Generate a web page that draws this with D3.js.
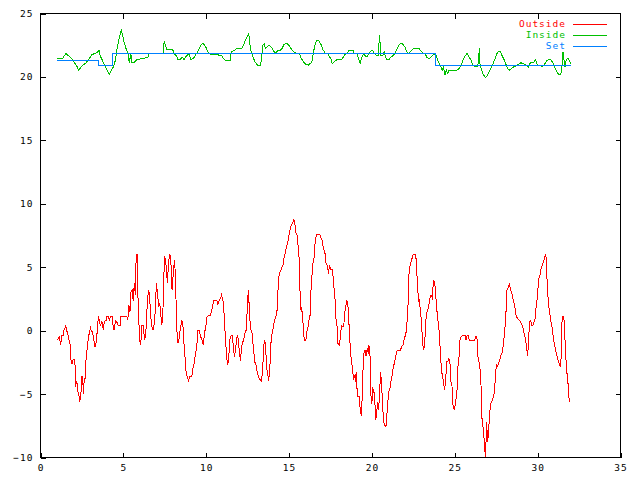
<!DOCTYPE html>
<html>
<head>
<meta charset="utf-8">
<script src="https://cdn.jsdelivr.net/npm/d3@7"></script>
<style>
  html, body { margin: 0; padding: 0; background: #fff; }
  svg text { font-family: "DejaVu Sans Mono", "Liberation Mono", monospace; font-size: 9.5px; letter-spacing: 1px; }
</style>
</head>
<body>
<svg id="chart" width="640" height="480"></svg>
<script>
// x = day of month, y = temperature (deg C)
const xTicks = [0, 5, 10, 15, 20, 25, 30, 35]
const yTicks = [-10, -5, 0, 5, 10, 15, 20, 25]

const seriesNames = ["Outside", "Inside", "Set"]
const seriesColors = ["#ff0000", "#00c000", "#0080ff"]

const outside = [[1.01,-0.75],[1.14,-0.49],[1.22,-1.15],[1.28,-0.41],[1.38,-0.41],[1.42,0.03],[1.52,0.37],[1.58,0.03],[1.66,-0.36],[1.72,-0.75],[1.82,-1.23],[1.84,-2.33],[1.90,-2.65],[1.96,-2.33],[2.02,-2.25],[2.10,-2.86],[2.12,-4.43],[2.16,-4.04],[2.22,-4.17],[2.26,-4.83],[2.32,-5.09],[2.37,-5.62],[2.40,-5.22],[2.46,-4.69],[2.49,-3.65],[2.55,-3.65],[2.58,-4.96],[2.64,-3.91],[2.69,-3.77],[2.73,-2.59],[2.79,-1.68],[2.85,-1.01],[2.91,-0.36],[2.97,-0.18],[3.01,0.35],[3.05,0.03],[3.13,-0.10],[3.21,-0.62],[3.29,-1.28],[3.35,-1.01],[3.39,-0.62],[3.45,0.56],[3.51,1.14],[3.55,0.69],[3.63,0.43],[3.70,0.77],[3.76,0.30],[3.79,0.03],[3.85,0.69],[3.96,0.82],[4.00,1.14],[4.09,1.14],[4.15,0.82],[4.24,1.14],[4.32,1.14],[4.38,0.43],[4.44,0.03],[4.52,0.77],[4.60,0.69],[4.68,0.43],[4.80,0.43],[4.86,1.14],[5.04,1.14],[5.21,1.14],[5.27,0.82],[5.33,2.01],[5.40,1.48],[5.46,3.05],[5.54,3.19],[5.59,2.34],[5.66,3.72],[5.73,2.79],[5.77,5.81],[5.83,6.03],[5.87,3.19],[5.93,0.82],[5.99,-0.75],[6.05,-1.15],[6.11,0.43],[6.21,0.43],[6.27,-0.75],[6.35,-0.36],[6.41,1.35],[6.47,2.66],[6.53,3.19],[6.59,2.72],[6.63,1.35],[6.71,0.43],[6.78,0.03],[6.85,0.43],[6.93,1.61],[6.99,3.72],[7.05,3.05],[7.14,1.87],[7.20,2.14],[7.26,1.22],[7.32,0.43],[7.38,1.22],[7.44,3.98],[7.48,5.81],[7.54,5.69],[7.60,4.77],[7.66,3.72],[7.72,5.29],[7.80,6.03],[7.86,5.69],[7.94,3.19],[8.02,4.63],[8.08,5.55],[8.14,4.50],[8.22,0.17],[8.29,-1.01],[8.36,-0.62],[8.44,0.17],[8.53,0.82],[8.60,0.30],[8.67,-1.28],[8.73,-2.20],[8.79,-3.38],[8.87,-3.65],[8.93,-3.91],[9.01,-3.59],[9.13,-3.59],[9.19,-3.06],[9.27,-2.59],[9.35,-1.86],[9.43,-1.28],[9.49,-0.02],[9.59,-0.02],[9.67,-0.49],[9.75,-0.75],[9.83,-1.15],[9.89,-0.23],[9.98,0.35],[10.05,1.09],[10.13,1.19],[10.25,1.19],[10.34,1.61],[10.42,2.14],[10.46,2.40],[10.64,2.40],[10.70,2.01],[10.78,2.40],[10.86,2.53],[10.92,2.79],[11.00,2.40],[11.06,2.01],[11.10,0.43],[11.16,-0.36],[11.22,-1.94],[11.30,-2.72],[11.36,-2.07],[11.44,-0.62],[11.50,-0.38],[11.58,-0.38],[11.64,-1.28],[11.70,-2.07],[11.76,-1.54],[11.82,-0.89],[11.87,-0.38],[11.93,-0.62],[11.99,-1.54],[12.07,-2.38],[12.13,-1.28],[12.19,-1.01],[12.27,-0.62],[12.33,-0.23],[12.41,0.03],[12.45,0.96],[12.49,2.27],[12.55,3.19],[12.59,2.01],[12.65,0.56],[12.71,-0.02],[12.77,-0.23],[12.85,-1.41],[12.93,-2.46],[13.01,-2.72],[13.09,-3.38],[13.19,-3.77],[13.32,-3.96],[13.39,-3.38],[13.48,-1.15],[13.51,-0.81],[13.58,-1.01],[13.64,-2.98],[13.70,-3.25],[13.76,-3.96],[13.82,-3.38],[13.88,-1.94],[13.92,-0.62],[14.00,-0.10],[14.06,0.30],[14.12,0.82],[14.20,1.14],[14.26,1.22],[14.32,2.93],[14.38,4.24],[14.46,4.63],[14.54,4.90],[14.63,5.16],[14.69,5.69],[14.76,6.08],[14.84,6.60],[14.93,7.00],[14.99,7.52],[15.07,8.05],[15.14,8.31],[15.21,8.49],[15.29,8.76],[15.35,8.45],[15.41,7.71],[15.49,7.52],[15.55,6.60],[15.63,5.29],[15.67,2.40],[15.73,1.48],[15.77,1.87],[15.81,0.82],[15.87,0.43],[15.91,-0.75],[16.01,-0.75],[16.09,0.03],[16.17,0.43],[16.23,1.14],[16.29,1.22],[16.33,3.58],[16.39,4.50],[16.45,5.42],[16.52,5.81],[16.58,7.13],[16.66,7.60],[16.86,7.60],[16.94,7.26],[17.00,7.13],[17.06,6.60],[17.18,6.03],[17.22,5.34],[17.30,5.16],[17.38,4.50],[17.44,5.16],[17.50,4.82],[17.62,4.82],[17.68,3.84],[17.77,2.53],[17.83,0.96],[17.89,0.43],[17.95,-1.01],[18.03,-1.15],[18.10,-0.49],[18.16,0.43],[18.25,0.30],[18.31,0.56],[18.37,1.48],[18.43,2.01],[18.49,2.40],[18.57,1.74],[18.65,-0.36],[18.71,-1.68],[18.77,-2.46],[18.83,-2.98],[18.89,-3.91],[18.95,-3.51],[19.01,-4.04],[19.05,-3.25],[19.09,-4.43],[19.15,-5.22],[19.25,-5.22],[19.29,-6.27],[19.37,-6.74],[19.43,-4.43],[19.49,-1.94],[19.58,-1.54],[19.64,-2.01],[19.72,-1.41],[19.78,-1.80],[19.82,-1.15],[19.88,-1.80],[19.94,-5.09],[20.00,-5.74],[20.04,-4.43],[20.10,-4.83],[20.16,-4.96],[20.22,-7.06],[20.28,-6.66],[20.34,-5.62],[20.40,-6.27],[20.46,-4.96],[20.52,-3.25],[20.58,-4.17],[20.64,-5.74],[20.70,-7.19],[20.80,-7.59],[20.86,-7.45],[20.92,-6.27],[20.98,-5.35],[21.04,-4.69],[21.11,-4.43],[21.17,-3.77],[21.23,-3.51],[21.29,-2.86],[21.35,-2.59],[21.41,-2.20],[21.47,-1.86],[21.53,-1.54],[21.73,-1.54],[21.79,-1.23],[21.87,-1.15],[21.93,-0.75],[21.99,-0.49],[22.05,-0.23],[22.11,0.56],[22.19,2.27],[22.23,4.37],[22.29,5.03],[22.36,5.42],[22.42,5.69],[22.49,6.03],[22.60,6.03],[22.66,5.69],[22.69,4.50],[22.75,4.11],[22.80,2.27],[22.87,2.40],[22.92,1.61],[22.98,0.82],[23.04,-0.49],[23.10,-1.54],[23.16,-1.28],[23.22,-0.23],[23.28,1.35],[23.36,1.61],[23.42,1.87],[23.48,2.40],[23.54,2.79],[23.60,2.79],[23.66,2.40],[23.70,3.98],[23.76,3.84],[23.82,3.45],[23.90,1.87],[23.96,1.09],[24.02,0.43],[24.08,-0.36],[24.14,-2.07],[24.20,-3.12],[24.26,-3.65],[24.32,-4.04],[24.38,-4.69],[24.45,-3.91],[24.51,-2.46],[24.57,-2.46],[24.65,-2.20],[24.71,-2.59],[24.77,-4.04],[24.83,-4.30],[24.87,-5.74],[24.97,-6.27],[25.05,-5.62],[25.13,-4.83],[25.19,-2.86],[25.25,-2.20],[25.31,-0.75],[25.37,-0.49],[25.47,-0.41],[25.63,-0.41],[25.68,-0.75],[25.74,-0.41],[25.82,-0.41],[25.88,-0.75],[26.20,-0.75],[26.28,-0.41],[26.34,-0.62],[26.40,-2.07],[26.46,-2.46],[26.52,-2.98],[26.58,-4.17],[26.62,-6.66],[26.70,-7.59],[26.76,-8.38],[26.80,-9.29],[26.86,-9.95],[26.92,-7.19],[26.98,-8.77],[27.04,-8.11],[27.08,-6.93],[27.16,-5.74],[27.22,-5.62],[27.28,-5.48],[27.34,-5.09],[27.40,-4.83],[27.46,-3.25],[27.52,-2.72],[27.58,-2.80],[27.64,-2.59],[27.73,-2.20],[27.79,-1.94],[27.85,-1.80],[27.91,-1.28],[27.97,-0.62],[28.03,0.30],[28.09,1.48],[28.15,3.19],[28.23,3.45],[28.29,3.66],[28.35,3.32],[28.41,3.05],[28.47,2.79],[28.53,2.40],[28.59,2.14],[28.64,1.74],[28.67,1.35],[28.73,1.09],[28.82,0.88],[28.89,0.82],[28.97,0.69],[29.03,0.51],[29.09,0.30],[29.15,0.03],[29.21,-0.36],[29.28,-0.75],[29.34,-1.41],[29.40,-2.01],[29.44,-1.01],[29.48,-0.10],[29.52,0.69],[29.58,0.82],[29.64,0.43],[29.72,0.43],[29.78,0.69],[29.86,0.96],[29.90,1.74],[29.96,2.40],[30.02,3.32],[30.08,4.11],[30.14,4.37],[30.20,4.82],[30.26,5.08],[30.33,5.34],[30.41,5.69],[30.47,6.03],[30.53,5.69],[30.57,3.84],[30.63,2.53],[30.71,1.48],[30.77,1.09],[30.83,0.43],[30.89,0.17],[30.95,-0.62],[31.01,-1.01],[31.07,-1.41],[31.13,-1.80],[31.19,-2.07],[31.25,-2.46],[31.31,-2.64],[31.37,-2.86],[31.43,-1.94],[31.47,0.69],[31.51,1.14],[31.57,1.14],[31.61,0.56],[31.67,-1.28],[31.75,-3.25],[31.81,-3.59],[31.87,-5.09],[31.93,-5.62]]

const inside = [[1.01,21.45],[1.34,21.45],[1.42,21.63],[1.54,21.85],[1.66,21.69],[1.78,21.58],[1.90,21.40],[2.06,21.11],[2.19,20.85],[2.31,20.53],[2.43,20.74],[2.55,20.92],[2.75,21.11],[2.95,21.45],[3.11,21.77],[3.31,21.85],[3.43,21.95],[3.53,22.11],[3.59,21.71],[3.71,21.37],[3.88,20.92],[4.03,20.53],[4.15,20.22],[4.28,20.53],[4.40,20.79],[4.52,21.32],[4.64,22.37],[4.72,22.90],[4.80,23.29],[4.88,23.68],[4.96,23.29],[5.04,22.76],[5.16,22.24],[5.28,21.85],[5.36,21.11],[5.45,21.85],[5.51,21.11],[5.65,21.11],[5.77,21.32],[5.93,21.40],[6.21,21.45],[6.49,21.58],[6.53,21.85],[7.42,21.85],[7.46,22.84],[7.54,22.50],[7.62,22.16],[7.98,22.16],[8.05,21.85],[8.22,21.63],[8.30,21.37],[8.42,21.37],[8.54,21.55],[8.67,21.37],[8.79,21.63],[8.95,21.85],[9.07,21.37],[9.23,21.45],[9.35,21.71],[9.51,22.05],[9.63,22.37],[9.75,22.63],[9.87,22.58],[9.99,22.32],[10.11,21.97],[10.28,21.77],[10.94,21.71],[11.04,21.45],[11.14,21.32],[11.44,21.32],[11.52,21.97],[11.64,22.05],[11.85,22.24],[12.15,22.24],[12.29,22.63],[12.41,23.03],[12.51,23.29],[12.57,23.42],[12.61,22.76],[12.69,22.11],[12.81,21.58],[12.95,21.19],[13.09,20.92],[13.26,20.92],[13.33,21.32],[13.42,22.50],[13.50,22.58],[13.58,22.24],[13.70,22.42],[13.82,22.50],[13.94,22.32],[14.06,22.05],[14.18,21.90],[14.30,22.05],[14.42,22.05],[14.58,22.24],[14.70,22.58],[14.87,22.63],[14.99,22.50],[15.11,22.24],[15.27,21.97],[15.47,21.85],[15.63,21.85],[15.71,21.53],[15.83,21.26],[15.99,21.00],[16.17,20.92],[16.38,21.19],[16.47,21.97],[16.59,22.63],[16.68,22.90],[16.80,22.84],[16.92,22.58],[17.04,22.16],[17.20,21.85],[17.32,21.85],[17.44,21.58],[17.56,21.37],[17.60,21.06],[17.89,21.37],[18.16,21.37],[18.28,21.58],[18.41,21.85],[18.53,21.90],[18.61,22.11],[18.85,22.11],[18.93,21.85],[19.09,21.85],[19.21,21.37],[19.29,21.06],[19.37,21.45],[19.49,21.85],[19.61,21.63],[19.73,21.63],[19.82,21.85],[19.94,22.05],[20.06,22.05],[20.14,21.85],[20.26,21.71],[20.38,21.71],[20.42,22.50],[20.46,23.29],[20.50,22.50],[20.54,21.71],[20.66,21.71],[20.74,21.97],[20.82,21.58],[20.90,21.37],[21.03,21.37],[21.10,21.53],[21.23,21.63],[21.39,21.85],[21.51,22.16],[21.63,22.50],[21.75,22.68],[21.87,22.58],[21.99,22.37],[22.11,21.97],[22.23,21.85],[22.31,21.97],[22.43,22.16],[22.56,22.24],[22.84,22.24],[22.96,22.05],[23.08,21.85],[23.20,21.85],[23.32,21.53],[23.48,21.45],[23.68,21.71],[23.82,21.85],[23.92,21.53],[24.00,21.19],[24.12,20.92],[24.25,20.53],[24.32,20.79],[24.41,20.14],[24.49,20.53],[24.57,20.27],[24.65,20.53],[25.13,20.53],[25.25,20.66],[25.37,20.92],[25.50,21.32],[25.62,21.63],[25.74,21.85],[25.86,21.58],[25.98,21.32],[26.10,20.92],[26.22,20.79],[26.34,20.79],[26.42,21.06],[26.48,22.24],[26.52,21.06],[26.62,20.53],[26.74,20.14],[26.86,19.96],[26.98,20.14],[27.06,20.40],[27.18,20.66],[27.31,21.06],[27.43,21.45],[27.55,21.85],[27.67,22.05],[27.75,21.97],[27.87,21.63],[27.99,21.32],[28.11,20.92],[28.19,20.66],[28.31,20.53],[28.43,20.66],[28.55,20.79],[28.75,20.92],[28.99,21.11],[29.12,21.06],[29.32,20.92],[29.44,20.79],[29.56,21.11],[29.68,21.11],[29.80,21.19],[29.88,21.37],[29.92,21.19],[30.00,20.92],[30.16,20.92],[30.28,20.79],[30.45,21.06],[30.57,21.32],[30.77,21.37],[30.89,21.19],[31.01,20.79],[31.17,20.40],[31.29,20.14],[31.41,20.27],[31.49,21.06],[31.53,21.97],[31.59,21.32],[31.65,20.79],[31.73,21.37],[31.85,21.45],[31.93,21.19],[32.02,21.06]]

// thermostat set point, held until the next change
const setDays = [0.98, 3.51, 4.32, 23.86, 32.02]
const setTemps = [21.30, 20.92, 21.85, 20.92, 20.92]

const svg = d3.select("#chart")

const x = d3.scaleLinear().domain([0, 35]).range([40.5, 620.5])
const y = d3.scaleLinear().domain([-10, 25]).range([457.5, 13.5])

// ticks point inward, mirrored on top and right
const tickLen = 5

svg.append("g")
	.attr("transform", "translate(0," + y(-10) + ")")
	.call(d3.axisBottom(x).tickValues(xTicks).tickSize(-tickLen).tickPadding(7))
svg.append("g")
	.attr("transform", "translate(0," + y(25) + ")")
	.call(d3.axisTop(x).tickValues(xTicks.slice(1, -1)).tickSize(-tickLen).tickFormat(""))
svg.append("g")
	.attr("transform", "translate(" + x(0) + ",0)")
	.call(d3.axisLeft(y).tickValues(yTicks).tickSize(-tickLen).tickPadding(7))
svg.append("g")
	.attr("transform", "translate(" + x(35) + ",0)")
	.call(d3.axisRight(y).tickValues(yTicks.slice(1, -1)).tickSize(-tickLen).tickFormat(""))

svg.selectAll(".domain").remove()
svg.selectAll(".tick line").attr("stroke", "#000").attr("shape-rendering", "crispEdges")
svg.selectAll(".tick text").attr("fill", "#000").attr("font-family", null).attr("font-size", null)

svg.append("rect")
	.attr("x", x(0)).attr("y", y(25))
	.attr("width", x(35) - x(0)).attr("height", y(-10) - y(25))
	.attr("fill", "none").attr("stroke", "#000")
	.attr("shape-rendering", "crispEdges")

let line = d3.line().x(d => x(d[0])).y(d => y(d[1]))
let stepLine = d3.line().x(d => x(d[0])).y(d => y(d[1])).curve(d3.curveStepAfter)

let setPts = setDays.map((d, i) => [d, setTemps[i]])
let series = [outside, inside, setPts]
let gens = [line, line, stepLine]

series.forEach((s, i) => {
	svg.append("path")
		.datum(s)
		.attr("d", gens[i])
		.attr("fill", "none")
		.attr("stroke", seriesColors[i])
		.attr("stroke-width", 1)
		.attr("shape-rendering", "crispEdges")
})

// key, top right
let key = svg.append("g")
seriesNames.forEach((name, i) => {
	let ky = 23.5 + i * 11
	key.append("text")
		.attr("x", 566).attr("y", ky)
		.attr("dy", "0.35em")
		.attr("text-anchor", "end")
		.attr("fill", seriesColors[i])
		.text(name)
	key.append("line")
		.attr("x1", 573).attr("x2", 607)
		.attr("y1", Math.round(ky) + 0.5).attr("y2", Math.round(ky) + 0.5)
		.attr("stroke", seriesColors[i])
})
</script>
</body>
</html>
